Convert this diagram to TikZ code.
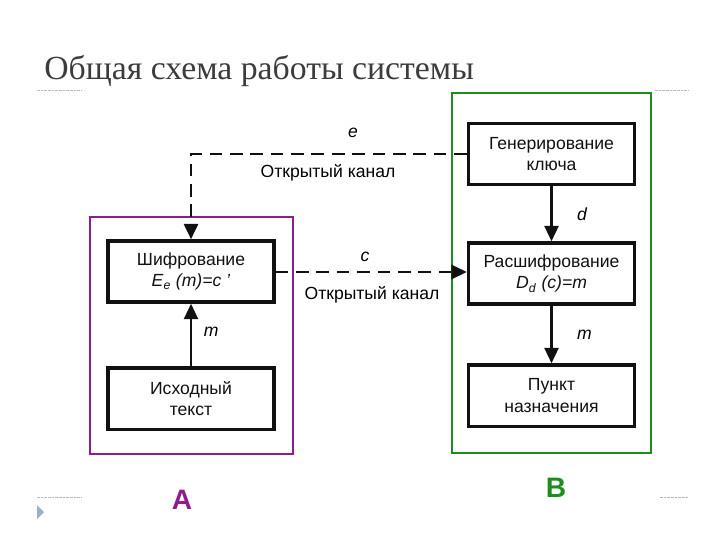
\documentclass[tikz,border=0pt]{standalone}
\usepackage{fontspec}
\setmainfont{Liberation Sans}
\newfontfamily\titlefont{Liberation Serif}
\usepackage{xcolor}
\usetikzlibrary{arrows.meta,positioning,calc}
\definecolor{ink}{HTML}{111111}
\definecolor{frameA}{HTML}{8E1C8E}
\definecolor{frameB}{HTML}{1E8C1E}
\definecolor{rule}{HTML}{B8B8B8}
\definecolor{titlegray}{HTML}{3C3C3C}
\definecolor{navtip}{HTML}{9AAFC8}

\begin{document}
\begin{tikzpicture}[x=0.025cm,y=-0.025cm,font=\fontsize{12.5}{15.5}\selectfont,>={Triangle[length=11pt,width=10pt]}]
\tikzset{
  block/.style={draw=ink,line width=2.3pt,fill=white,minimum width=4.15cm,minimum height=1.53cm,align=center,inner sep=1pt,text=ink},
  frame/.style={line width=1.8pt},
  link/.style={->,draw=ink,line width=1.7pt},
  channel/.style={->,draw=ink,line width=2pt,dash pattern=on 9pt off 5.5pt},
  tag/.style={font=\fontsize{12.5}{14}\selectfont\itshape},
  hrule/.style={draw=rule,line width=0.6pt,dash pattern=on 2pt off 0.6pt}
}
\useasboundingbox (0,0) rectangle (720,540);

% title and slide rules
\node[anchor=base west,font=\titlefont\fontsize{24}{28}\selectfont,text=titlegray,inner sep=0] (title) at (44,79) {Общая схема работы системы};
\draw[hrule] (37,90) -- (82,90);
\draw[hrule] (655,90) -- (688,90);
\draw[hrule] (37,497) -- (82,497);
\draw[hrule] (660,497) -- (688,497);
\fill[fill=navtip] (37,505) -- (44,512) -- (37,519) -- cycle;

% frames of the two parties
\draw[frame,draw=frameA] (90,217) rectangle (293,454);
\draw[frame,draw=frameB] (452,93) rectangle (651,453);
\node[font=\fontsize{20}{20}\selectfont\bfseries,text=frameA] (labA) at (182,500) {A};
\node[font=\fontsize{20}{20}\selectfont\bfseries,text=frameB] (labB) at (556,488) {B};

% blocks
\node[block] (enc) at (191,271.5) {Шифрование\\\textit{E}\textsubscript{\textit{e}} \textit{(m)=c '}};
\node[block] (src) at (191,398.5) {Исходный\\текст};
\node[block] (gen) at (551.5,154) {Генерирование\\ключа};
\node[block] (dec) at (551.5,273.5) {Расшифрование\\\textit{D}\textsubscript{\textit{d}} \textit{(c)=m}};
\node[block] (dst) at (551.5,395.5) {Пункт\\назначения};

% connectors
\draw[link] (src) -- (enc) node[tag,pos=0.55,right=5pt] {m};
\draw[link] (gen) -- (dec) node[tag,midway,right=14pt] {d};
\draw[link] (dec) -- (dst) node[tag,midway,right=14pt] {m};
\draw[channel] (gen.west) -| (enc.north);
\draw[channel] (enc.east |- 0,272) -- (dec.west |- 0,272);

% channel labels
\node[tag] (e) at (353,133) {e};
\node (ch1) at (328,173) {Открытый канал};
\node[tag] (c) at (365,257) {c};
\node (ch2) at (372,295) {Открытый канал};
\end{tikzpicture}
\end{document}
